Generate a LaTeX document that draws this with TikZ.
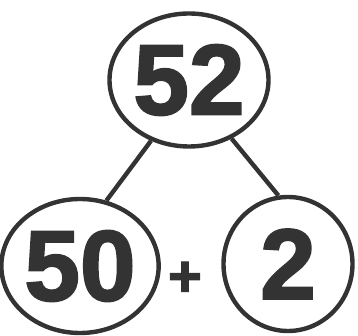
\documentclass[tikz,border=0pt]{standalone}
\usepackage{fontspec}
\setmainfont{Liberation Sans}[BoldFeatures={FakeBold=2}]
\usetikzlibrary{shapes.geometric}
\definecolor{ink}{HTML}{333333}

\begin{document}
\begin{tikzpicture}[x=1pt, y=-1pt, line width=4.4pt, color=ink]
    \useasboundingbox (0,0) rectangle (358,336);
    \tikzset{
        bubble/.style={ellipse, draw=ink, inner sep=0pt, text=ink,
            font=\fontsize{100}{100}\selectfont\bfseries}
    }
    % Ganze und Teile
    \node[bubble, minimum width=159pt, minimum height=133pt] (whole) at (189,80) {52};
    \node[bubble, minimum width=152pt, minimum height=134pt] (tens) at (80,266) {50};
    \node[bubble, minimum width=129pt, minimum height=134pt] (ones) at (288,264) {2};
    \node[text=ink, font=\fontsize{58}{58}\selectfont\bfseries] (plus) at (185,279) {+};

    % Verbindungen
    \draw (whole.238) -- (tens.68);
    \draw (whole.306) -- (ones.98);
\end{tikzpicture}
\end{document}
